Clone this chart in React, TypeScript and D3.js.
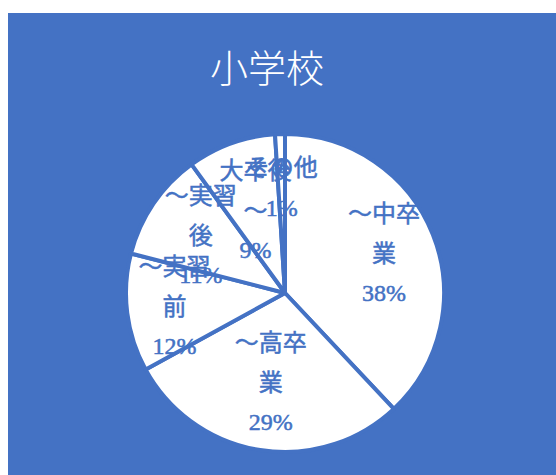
import React from "react";
import * as d3 from "d3";

const title = "小学校";
const categories = ["～中卒業", "～高卒業", "～実習前", "～実習後", "大卒後～", "その他"];
const values = [38, 29, 12, 11, 9, 1];

// layout constants (not data)
const labelRadiusFrac = [0.67, 0.57, 0.7, 0.64, 0.55, 0.66];

const W = 556;
const H = 475;
const BLUE = "#4472C4";
const cx = 285;
const cy = 293;
const R = 159;
const lineGap = 39.5;

function wrap(s: string, n: number): string[] {
  const out: string[] = [];
  const chars = Array.from(s);
  for (let i = 0; i < chars.length; i += n) out.push(chars.slice(i, i + n).join(""));
  return out;
}

export default function App() {
  const total = d3.sum(values);
  const pie = d3
    .pie<number>()
    .sort(null)
    .startAngle(0)
    .endAngle(2 * Math.PI)
    .value((d) => d);
  const arcs = pie(values);
  const arc = d3.arc<d3.PieArcDatum<number>>().innerRadius(0).outerRadius(R);

  return (
    <svg
      width={W}
      height={H}
      style={{ position: "absolute", left: 0, top: 0, display: "block" }}
    >
      <rect x={0} y={0} width={W} height={H} fill="#ffffff" />
      <rect x={8} y={13} width={W - 8} height={H - 13} fill={BLUE} />
      <text
        x={267}
        y={82}
        textAnchor="middle"
        fill="#ffffff"
        fontSize={38}
        fontFamily="'Noto Sans CJK JP', sans-serif"
        fontWeight={300}
      >
        {title}
      </text>
      <g transform={`translate(${cx},${cy})`}>
        {arcs.map((a, i) => (
          <path
            key={i}
            d={arc(a) || ""}
            fill="#ffffff"
            stroke={BLUE}
            strokeWidth={4}
            strokeLinejoin="round"
          />
        ))}
        {arcs.map((a, i) => {
          const mid = (a.startAngle + a.endAngle) / 2;
          const r = R * labelRadiusFrac[i];
          const x = Math.sin(mid) * r;
          const y = -Math.cos(mid) * r;
          const pct = Math.round((values[i] / total) * 100) + "%";
          const lines = [...wrap(categories[i], 3), pct];
          const n = lines.length;
          return (
            <text
              key={"t" + i}
              textAnchor="middle"
              fill={BLUE}
              stroke={BLUE}
              strokeWidth={0.5}
              fontSize={24}
              fontFamily="'Liberation Serif', 'Noto Sans CJK JP', serif"
            >
              {lines.map((l, j) => (
                <tspan
                  key={j}
                  x={x}
                  y={y + (j - (n - 1) / 2) * lineGap}
                  dominantBaseline="central"
                >
                  {l}
                </tspan>
              ))}
            </text>
          );
        })}
      </g>
    </svg>
  );
}
